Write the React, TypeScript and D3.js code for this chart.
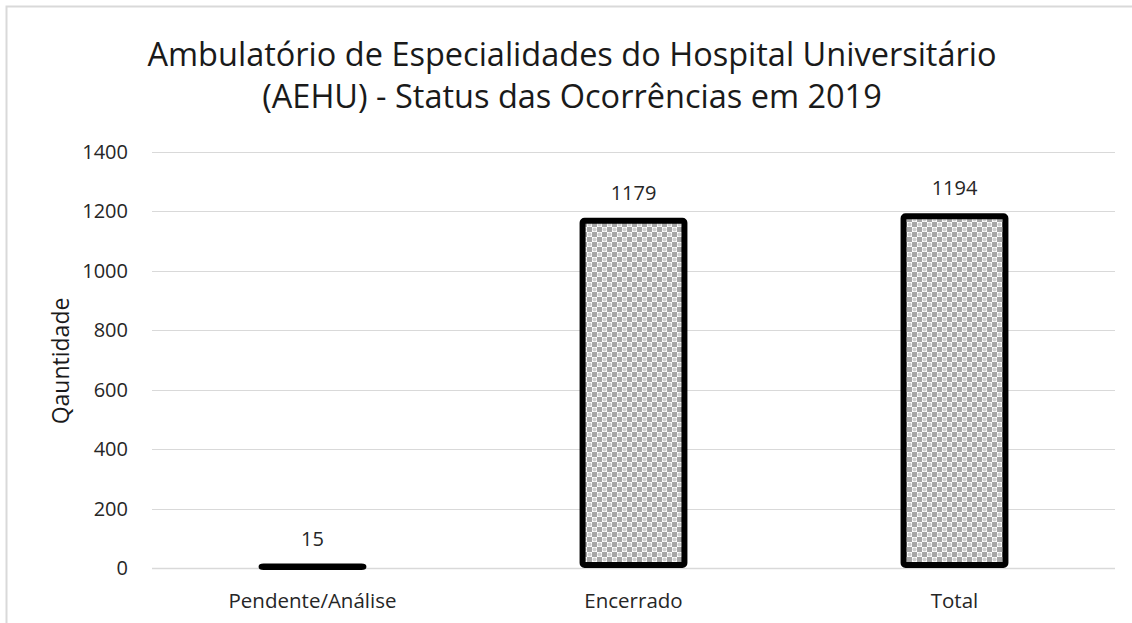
import React, { useEffect, useRef } from 'react';
import * as d3 from 'd3';

const categories = ['Pendente/Análise', 'Encerrado', 'Total'];
const values = [15, 1179, 1194];
const yTicks = [0, 200, 400, 600, 800, 1000, 1200, 1400];
const titleLines = ['Ambulatório de Especialidades do Hospital Universitário', '(AEHU) - Status das Ocorrências em 2019'];
const yTitle = 'Qauntidade';

const W = 1132;
const H = 623;
const FONT = "'Open Sans', 'Noto Sans', sans-serif";

export default function App() {
  const ref = useRef<SVGSVGElement>(null);

  useEffect(() => {
    const svg = d3.select(ref.current);
    svg.selectAll('*').remove();

    const margin = { top: 152, right: 17, bottom: 55, left: 152 };
    const width = W - margin.left - margin.right;
    const height = H - margin.top - margin.bottom;

    const defs = svg.append('defs');
    const pat = defs.append('pattern')
      .attr('id', 'dots')
      .attr('patternUnits', 'userSpaceOnUse')
      .attr('width', 10)
      .attr('height', 10);
    pat.append('rect').attr('width', 10).attr('height', 10).attr('fill', '#ffffff');
    pat.append('rect').attr('x', 0).attr('y', 0).attr('width', 5).attr('height', 5).attr('fill', '#a6a6a6');
    pat.append('rect').attr('x', 5).attr('y', 5).attr('width', 5).attr('height', 5).attr('fill', '#a6a6a6');
    pat.append('circle').attr('cx', 7.5).attr('cy', 2.5).attr('r', 2).attr('fill', '#cfcfcf');
    pat.append('circle').attr('cx', 2.5).attr('cy', 7.5).attr('r', 2).attr('fill', '#cfcfcf');

    // chart frame
    svg.append('rect')
      .attr('x', 6.5).attr('y', 6.5)
      .attr('width', W + 20).attr('height', H + 20)
      .attr('fill', 'white')
      .attr('stroke', '#d9d9d9')
      .attr('stroke-width', 2);

    const title = svg.append('text')
      .attr('text-anchor', 'middle')
      .attr('font-family', FONT)
      .attr('font-size', 32.5)
      .attr('fill', '#1a1a1a');
    titleLines.forEach((t, i) => {
      title.append('tspan').attr('x', 572).attr('y', 66 + i * 42).text(t);
    });

    const g = svg.append('g').attr('transform', `translate(${margin.left},${margin.top})`);

    const x = d3.scaleBand().domain(categories).range([0, width]).paddingInner(0.664).paddingOuter(0.332);
    const y = d3.scaleLinear().domain([0, 1400]).range([height, 0]);

    g.append('g')
      .selectAll('line')
      .data(yTicks.slice(1))
      .enter()
      .append('line')
      .attr('x1', 0).attr('x2', width)
      .attr('y1', d => Math.round(y(d)) + 0.5).attr('y2', d => Math.round(y(d)) + 0.5)
      .attr('stroke', '#d9d9d9')
      .attr('stroke-width', 1);

    g.append('g')
      .selectAll('text')
      .data(yTicks)
      .enter()
      .append('text')
      .attr('x', -24)
      .attr('y', d => y(d))
      .attr('dy', '0.35em')
      .attr('text-anchor', 'end')
      .attr('font-family', FONT)
      .attr('font-size', 20)
      .attr('fill', '#262626')
      .text(d => d);

    g.append('line')
      .attr('x1', 0).attr('x2', width)
      .attr('y1', height + 0.5).attr('y2', height + 0.5)
      .attr('stroke', '#d9d9d9')
      .attr('stroke-width', 1.5);

    const bw = x.bandwidth();
    g.append('g')
      .selectAll('rect')
      .data(values)
      .enter()
      .append('rect')
      .attr('x', (d, i) => x(categories[i])! + 3)
      .attr('y', d => y(d) + 3)
      .attr('width', bw - 6)
      .attr('height', d => Math.max(0.5, height - y(d) - 6))
      .attr('rx', 2)
      .attr('fill', 'url(#dots)')
      .attr('stroke', '#000000')
      .attr('stroke-width', 6);

    g.append('g')
      .selectAll('text')
      .data(values)
      .enter()
      .append('text')
      .attr('x', (d, i) => x(categories[i])! + bw / 2)
      .attr('y', d => y(d) - 18)
      .attr('text-anchor', 'middle')
      .attr('font-family', FONT)
      .attr('font-size', 20)
      .attr('fill', '#262626')
      .text(d => d);

    g.append('g')
      .selectAll('text')
      .data(categories)
      .enter()
      .append('text')
      .attr('x', d => x(d)! + bw / 2)
      .attr('y', height + 40)
      .attr('text-anchor', 'middle')
      .attr('font-family', FONT)
      .attr('font-size', 20.5)
      .attr('fill', '#262626')
      .text(d => d);

    svg.append('text')
      .attr('transform', `translate(69,${margin.top + 209}) rotate(-90)`)
      .attr('text-anchor', 'middle')
      .attr('font-family', FONT)
      .attr('font-size', 23)
      .attr('fill', '#1a1a1a')
      .text(yTitle);
  }, []);

  return (
    <svg ref={ref} width={W} height={H} style={{ position: 'absolute', left: 0, top: 0, background: 'white' }} />
  );
}
